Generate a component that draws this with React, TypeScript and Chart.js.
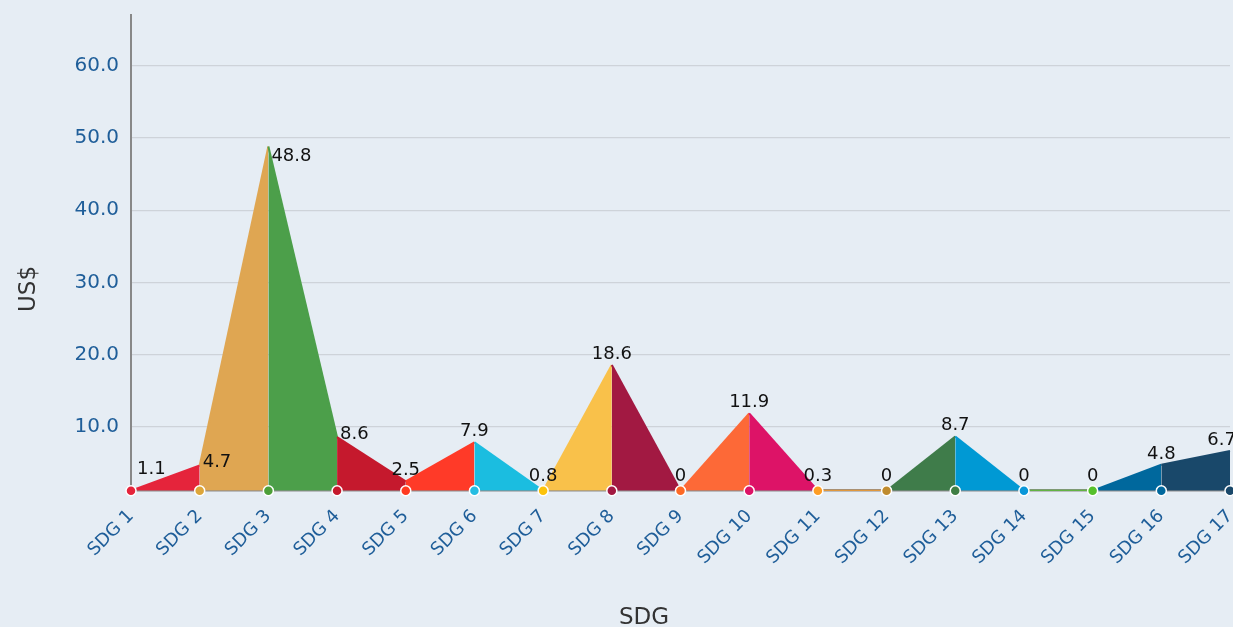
import React, { useEffect, useRef } from 'react';
import { Chart, registerables } from 'chart.js';

Chart.register(...registerables);

// ---------- data ----------
const categories = [
  'SDG 1', 'SDG 2', 'SDG 3', 'SDG 4', 'SDG 5', 'SDG 6', 'SDG 7', 'SDG 8', 'SDG 9',
  'SDG 10', 'SDG 11', 'SDG 12', 'SDG 13', 'SDG 14', 'SDG 15', 'SDG 16', 'SDG 17',
];
const values = [1.1, 4.7, 48.8, 8.6, 2.5, 7.9, 0.8, 18.6, 0, 11.9, 0.3, 0, 8.7, 0, 0, 4.8, 6.7];

// official SDG colours, used for the markers on the axis
const sdgColors = [
  '#E5243B', '#DDA63A', '#4C9F38', '#C5192D', '#FF3A21', '#26BDE2', '#FCC30B', '#A21942', '#FD6925',
  '#DD1367', '#FD9D24', '#BF8B2E', '#3F7E44', '#0A97D9', '#56C02B', '#00689D', '#19486A',
];
// colours of the filled segments between consecutive SDGs, as drawn in the chart
const segmentColors = [
  '#E5243B', '#DFA652', '#4C9F4A', '#C5192D', '#FF3A28', '#1BBDE0', '#F9C14A', '#A21942',
  '#FD6937', '#DD1367', '#FD9D24', '#3F7C4A', '#0099D4', '#56C02B', '#00689D', '#19486A',
];

const yTicks = [10, 20, 30, 40, 50, 60];
const Y_MIN = 1.2;
const Y_MAX = 67;
const X_TITLE = 'SDG';
const Y_TITLE = 'US$';

const BG = '#E6EDF4';
const FONT = "'DejaVu Sans', sans-serif";
const TICK_BLUE = '#1F5E99';

const fmt = (v: number) => (v === 0 ? '0' : v.toFixed(1));

export default function App() {
  const ref = useRef<HTMLCanvasElement | null>(null);

  useEffect(() => {
    document.body.style.margin = '0';
    document.body.style.background = BG;
    const canvas = ref.current;
    if (!canvas) return;

    const bgPlugin = {
      id: 'bg',
      beforeDraw(chart: any) {
        const c = chart.ctx;
        c.save();
        c.fillStyle = BG;
        c.fillRect(0, 0, chart.width, chart.height);
        c.restore();
      },
    };

    const labelPlugin = {
      id: 'valueLabels',
      afterDatasetsDraw(chart: any) {
        const c = chart.ctx;
        const meta = chart.getDatasetMeta(0);
        c.save();
        c.fillStyle = '#111111';
        c.font = `18px ${FONT}`;
        c.textBaseline = 'alphabetic';
        meta.data.forEach((pt: any, i: number) => {
          const v = values[i];
          const prev = values[i - 1];
          const next = values[i + 1];
          const steep =
            (prev !== undefined && Math.abs(v - prev) > 30) ||
            (next !== undefined && Math.abs(v - next) > 30);
          const peak = (prev === undefined || v > prev) && (next === undefined || v > next);
          const txt = fmt(v);
          if (i === 0) {
            c.textAlign = 'left';
            c.fillText(txt, pt.x + 6, pt.y - 17);
          } else if (i === values.length - 1) {
            c.textAlign = 'right';
            c.fillText(txt, pt.x + 6, pt.y - 6);
          } else if (steep) {
            c.textAlign = 'left';
            c.fillText(txt, pt.x + 3, peak ? pt.y + 14 : pt.y + 2);
          } else {
            c.textAlign = 'center';
            c.fillText(txt, pt.x, v <= Y_MIN ? pt.y - 10 : pt.y - 6);
          }
        });
        c.restore();
      },
      afterDraw(chart: any) {
        const c = chart.ctx;
        c.save();
        c.fillStyle = '#333333';
        c.font = `23px ${FONT}`;
        c.textAlign = 'center';
        c.textBaseline = 'middle';
        c.fillText(X_TITLE, 644, 618);
        c.translate(29, 289);
        c.rotate(-Math.PI / 2);
        c.fillText(Y_TITLE, 0, 0);
        c.restore();
      },
    };

    const chart = new Chart(canvas, {
      type: 'line',
      data: {
        labels: categories,
        datasets: [
          {
            data: values.map((v) => Math.max(v, Y_MIN)),
            order: 2,
            fill: 'start',
            borderWidth: 2,
            pointRadius: 0,
            pointHoverRadius: 0,
            tension: 0,
            borderColor: segmentColors[0],
            backgroundColor: segmentColors[0],
            segment: {
              borderColor: (ctx: any) => segmentColors[ctx.p0DataIndex],
              backgroundColor: (ctx: any) => segmentColors[ctx.p0DataIndex],
            },
          } as any,
          {
            data: categories.map(() => Y_MIN),
            order: 1,
            showLine: false,
            fill: false,
            pointRadius: 5,
            pointHoverRadius: 5,
            pointBackgroundColor: sdgColors,
            pointBorderColor: '#ffffff',
            pointBorderWidth: 1.5,
            clip: false,
          } as any,
        ],
      },
      options: {
        responsive: false,
        animation: false,
        events: [],
        layout: { autoPadding: false, padding: { top: 15, right: 3, left: 0, bottom: 0 } },
        plugins: {
          legend: { display: false },
          tooltip: { enabled: false },
          title: { display: false },
        },
        scales: {
          x: {
            type: 'category',
            offset: false,
            grid: { color: 'rgba(0,0,0,0)', drawTicks: false },
            border: { display: true, color: '#8C8C8C', width: 2.5 },
            ticks: {
              autoSkip: false,
              maxRotation: 45,
              minRotation: 45,
              padding: 15,
              color: TICK_BLUE,
              font: { family: FONT, size: 18 },
            },
            afterFit(scale: any) {
              scale.height = 136.3;
              scale.paddingLeft = 0;
              scale.paddingRight = 0;
            },
          },
          y: {
            type: 'linear',
            min: Y_MIN,
            max: Y_MAX,
            grid: { color: '#CED3D9', lineWidth: 1.3, drawTicks: false },
            border: { display: true, color: '#888888', width: 2 },
            ticks: {
              padding: 12,
              color: TICK_BLUE,
              font: { family: FONT, size: 20 },
              callback: (v: any) => Number(v).toFixed(1),
            },
            afterBuildTicks(scale: any) {
              scale.ticks = yTicks.map((v) => ({ value: v }));
            },
            afterFit(scale: any) {
              scale.width = 131;
              scale.paddingTop = 0;
              scale.paddingBottom = 0;
            },
          },
        },
      },
      plugins: [bgPlugin, labelPlugin],
    });

    return () => chart.destroy();
  }, []);

  return (
    <div style={{ width: 1233, height: 627, overflow: 'hidden', background: BG }}>
      <canvas ref={ref} width={1233} height={627} style={{ display: 'block' }} />
    </div>
  );
}
